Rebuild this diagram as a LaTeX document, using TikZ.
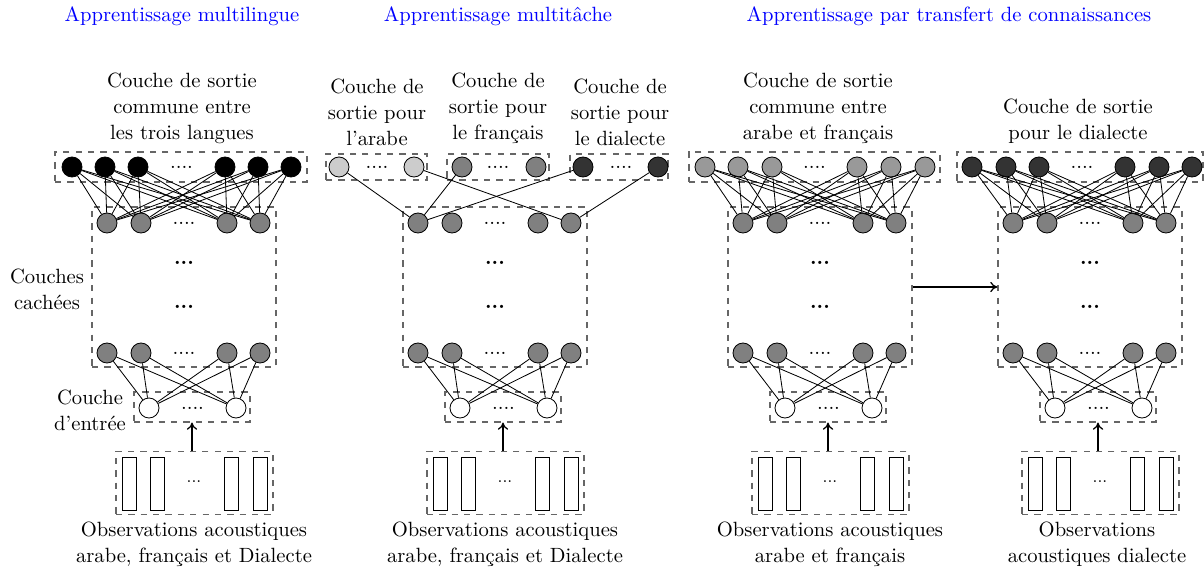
\documentclass[tikz,border=0pt]{standalone}
\usetikzlibrary{arrows.meta}
\newlength\pxu
\setlength\pxu{0.485pt}
\begin{document}
\begin{tikzpicture}[x=0.485pt,y=-0.485pt,
  neuron/.style={circle,draw=black,line width=0.4pt,minimum size=20\pxu,inner sep=0pt},
  dbox/.style={draw=black!60,dashed,inner sep=0pt,line width=0.5pt},
  bar/.style={draw=black,line width=0.4pt,minimum width=14\pxu,minimum height=53\pxu,inner sep=0pt},
  lbl/.style={align=center,inner sep=0pt,font=\fontsize{10pt}{12.6pt}\selectfont},
  dotsn/.style={inner sep=0pt,font=\fontsize{10pt}{12pt}\selectfont},
  conn/.style={line width=0.4pt},
  arr/.style={-{To[length=3.5pt,width=5pt]},semithick},
  hdr/.style={text=blue,inner sep=0pt,anchor=base,font=\fontsize{10pt}{12pt}\selectfont}
]
\useasboundingbox (0,0) rectangle (1204,569);

% headers
\node[hdr] (t1) at (182,22) {Apprentissage multilingue};
\node[hdr] (t2) at (498,22) {Apprentissage multitâche};
\node[hdr] (t3) at (949,22) {Apprentissage par transfert de connaissances};

% lower parts of the four networks
\foreach \p/\o in {1/0,2/311,3/636,4/906}{
  \node[dbox,minimum width=184\pxu,minimum height=160\pxu] (hb\p) at (184+\o,287) {};
  \node[dbox,minimum width=116\pxu,minimum height=30\pxu] (ib\p) at (192+\o,407) {};
  \node[dbox,minimum width=157\pxu,minimum height=63\pxu] (ob\p) at (194.5+\o,483) {};
  \foreach \i/\x in {1/107,2/141,3/227,4/260}{
    \node[neuron,fill=black!50] (h\p\i) at (\x+\o,223) {};
    \node[neuron,fill=black!50] (g\p\i) at (\x+\o,353) {};
  }
  \node[neuron,fill=white] (n\p1) at (149+\o,408) {};
  \node[neuron,fill=white] (n\p2) at (236+\o,408) {};
  \node[dotsn] (hda\p) at (184+\o,223) {....};
  \node[dotsn] (hdb\p) at (184+\o,353) {....};
  \node[dotsn,font=\bfseries] (hdc\p) at (184+\o,263) {...};
  \node[dotsn,font=\bfseries] (hdd\p) at (184+\o,307) {...};
  \node[dotsn] (nd\p) at (192.5+\o,408) {....};
  \foreach \i/\x in {1/129.5,2/157,3/231,4/260}{
    \node[bar] (b\p\i) at (\x+\o,483.5) {};
  }
  \node[dotsn,font=\footnotesize] (bd\p) at (194+\o,482) {...};
  \draw[arr] (ob\p.north -| ib\p.south) -- (ib\p.south);
}
\foreach \p in {1,...,4}{
  \foreach \i in {1,...,4}{
    \draw[conn] (g\p\i) -- (n\p1);
    \draw[conn] (g\p\i) -- (n\p2);
  }
}

% output layers panels 1, 3, 4
\node[dbox,minimum width=252\pxu,minimum height=30\pxu] (ox1) at (181,167) {};
\node[dbox,minimum width=251\pxu,minimum height=30\pxu] (ox3) at (814.5,167) {};
\node[dbox,minimum width=246\pxu,minimum height=30\pxu] (ox4) at (1080,167) {};
\foreach \k/\x in {1/72,2/105,3/138,4/225,5/258,6/291}{
  \node[neuron,fill=black] (o1\k) at (\x,167) {};
}
\foreach \k/\x in {1/705,2/738,3/772,4/857,5/891,6/925}{
  \node[neuron,fill=black!40] (o3\k) at (\x,167) {};
}
\foreach \k/\x in {1/972,2/1006,3/1039,4/1125,5/1159,6/1192}{
  \node[neuron,fill=black!80] (o4\k) at (\x,167) {};
}
\node[dotsn] (od1) at (181.5,167) {....};
\node[dotsn] (od3) at (814.5,167) {....};
\node[dotsn] (od4) at (1082,167) {....};
\foreach \p in {1,3,4}{
  \foreach \k in {1,...,6}{
    \foreach \i in {1,...,4}{
      \draw[conn] (o\p\k) -- (h\p\i);
    }
  }
}

% output layers panel 2
\node[dbox,minimum width=101\pxu,minimum height=26\pxu] (oxa) at (376.5,167) {};
\node[dbox,minimum width=102\pxu,minimum height=26\pxu] (oxf) at (498,167) {};
\node[dbox,minimum width=98\pxu,minimum height=26\pxu] (oxd) at (619,167) {};
\node[neuron,fill=black!20] (a1) at (339,167) {};
\node[neuron,fill=black!20] (a2) at (414,167) {};
\node[neuron,fill=black!50] (f1) at (462,167) {};
\node[neuron,fill=black!50] (f2) at (536,167) {};
\node[neuron,fill=black!80] (d1) at (583,167) {};
\node[neuron,fill=black!80] (d2) at (658,167) {};
\node[dotsn] (ada) at (377,167) {....};
\node[dotsn] (adf) at (498,167) {....};
\node[dotsn] (add) at (621,167) {....};
\draw[conn] (a1) -- (h21);
\draw[conn] (a2) -- (h24);
\draw[conn] (f1) -- (h21);
\draw[conn] (d1) -- (h21);
\draw[conn] (d2) -- (h24);

% transfer arrow
\draw[arr] (hb3.east) -- (hb4.west);

% labels
\node[lbl,anchor=south] (l1) at (182,144) {Couche de sortie\\commune entre\\les trois langues};
\node[lbl,anchor=south] (l2a) at (377,146) {Couche de\\sortie pour\\l'arabe};
\node[lbl,anchor=south] (l2f) at (498,144) {Couche de\\sortie pour\\le français};
\node[lbl,anchor=south] (l2d) at (620,146) {Couche de\\sortie pour\\le dialecte};
\node[lbl,anchor=south] (l3) at (818,144) {Couche de sortie\\commune entre\\arabe et français};
\node[lbl,anchor=south] (l4) at (1078,144) {Couche de sortie\\pour le dialecte};
\node[lbl] (lc) at (47,289) {Couches\\cachées};
\node[lbl] (le) at (90,410) {Couche\\d'entrée};
\node[lbl,anchor=north] (s1) at (194,522) {Observations acoustiques\\arabe, français et Dialecte};
\node[lbl,anchor=north] (s2) at (505,522) {Observations acoustiques\\arabe, français et Dialecte};
\node[lbl,anchor=north] (s3) at (830,522) {Observations acoustiques\\arabe et français};
\node[lbl,anchor=north] (s4) at (1097,522) {Observations\\acoustiques dialecte};
\end{tikzpicture}
\end{document}
